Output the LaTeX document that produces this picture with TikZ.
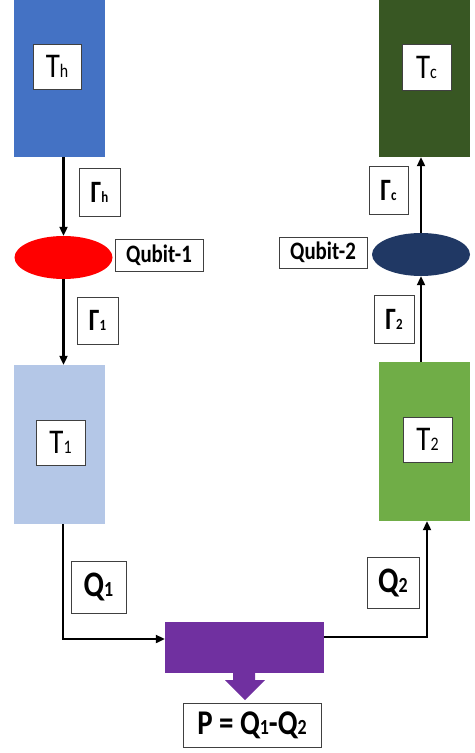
\documentclass[tikz,border=0pt]{standalone}
\usepackage{fontspec}
\setmainfont{Carlito}
\usetikzlibrary{arrows.meta,shapes.geometric}

\definecolor{hotblue}{HTML}{4472C4}
\definecolor{coldgreen}{HTML}{385723}
\definecolor{paleblue}{HTML}{B4C7E7}
\definecolor{leafgreen}{HTML}{70AD47}
\definecolor{qubitred}{HTML}{FF0000}
\definecolor{qubitnavy}{HTML}{203864}
\definecolor{workpurple}{HTML}{7030A0}
\definecolor{boxedge}{HTML}{404040}

% text is drawn slightly taller than wide
\newcommand{\vstretch}[1]{\scalebox{1}[1.2]{#1}}
% temperature label: big T with a smaller index on the same baseline
\newcommand{\templab}[1]{\vstretch{\fontsize{29}{29}\selectfont T\fontsize{16}{16}\selectfont #1}}
% rate label: bold Gamma with index
\newcommand{\ratelab}[1]{\vstretch{\bfseries\fontsize{26}{26}\selectfont Γ\fontsize{13}{13}\selectfont #1}}
% heat label: bold Q with index
\newcommand{\heatlab}[1]{\vstretch{\bfseries\fontsize{30}{30}\selectfont Q\fontsize{18}{18}\selectfont #1}}

\tikzset{
  x=1bp, y=-1bp,
  bath/.style={rectangle, draw=none, inner sep=0pt},
  tagbox/.style={rectangle, draw=boxedge, line width=0.8bp, fill=white, inner sep=0pt, align=center},
  qubit/.style={ellipse, draw=none, minimum width=98bp, minimum height=43bp, inner sep=0pt},
  arr/.style={line width=2.1bp, -{Triangle[length=9bp,width=8bp]}},
  flow/.style={line width=2.1bp, -{Triangle[length=9bp,width=8bp]}}
}

\begin{document}
\begin{tikzpicture}
\useasboundingbox (0,0) rectangle (475,753);

% reservoirs
\node[bath, fill=hotblue,   minimum width=91bp, minimum height=157bp] (th) at (59.5,78.5) {};
\node[bath, fill=coldgreen, minimum width=91bp, minimum height=157bp] (tc) at (424.5,78.5) {};
\node[bath, fill=paleblue,  minimum width=91bp, minimum height=159bp] (t1) at (59.5,444.5) {};
\node[bath, fill=leafgreen, minimum width=91bp, minimum height=159bp] (t2) at (424.5,441.5) {};

% qubits
\node[qubit, fill=qubitred]  (q1) at (63.5,257.5) {};
\node[qubit, fill=qubitnavy] (q2) at (421,254.5) {};

% work extraction block with its output arrow
\node[bath, fill=workpurple, minimum width=159bp, minimum height=51bp] (pw) at (244.5,647.5) {};
\fill[workpurple] (233,673) -- (255,673) -- (255,680) -- (265,680) -- (245,700)
  -- (225,680) -- (233,680) -- cycle;

% temperature labels
\node[tagbox, minimum width=48bp, minimum height=45bp] (lth) at (57,66.5)    {\templab{h}};
\node[tagbox, minimum width=49bp, minimum height=46bp] (ltc) at (426.5,67)   {\templab{c}};
\node[tagbox, minimum width=49bp, minimum height=45bp] (lt1) at (60.5,442.5) {\templab{1}};
\node[tagbox, minimum width=49bp, minimum height=45bp] (lt2) at (427.5,439.5) {\templab{2}};

% qubit names
\node[tagbox, minimum width=88bp, minimum height=32bp] (lq1) at (159,255)   {\vstretch{\bfseries\fontsize{21}{21}\selectfont Qubit-1}};
\node[tagbox, minimum width=88bp, minimum height=31bp] (lq2) at (323,252.5) {\vstretch{\bfseries\fontsize{21}{21}\selectfont Qubit-2}};

% rates
\node[tagbox, minimum width=41bp, minimum height=48bp] (gh) at (99.5,192)  {\ratelab{h}};
\node[tagbox, minimum width=41bp, minimum height=47bp] (g1) at (97.5,320.5) {\ratelab{1}};
\node[tagbox, minimum width=39bp, minimum height=48bp] (gc) at (388.5,190) {\ratelab{c}};
\node[tagbox, minimum width=40bp, minimum height=48bp] (g2) at (394,319)   {\ratelab{2}};

% heats and power
\node[tagbox, minimum width=55bp, minimum height=52bp] (hq1) at (98.5,587) {\heatlab{1}};
\node[tagbox, minimum width=52bp, minimum height=51bp] (hq2) at (393,582.5) {\heatlab{2}};
\node[tagbox, minimum width=138bp, minimum height=44bp] (pow) at (252,725)
  {\vstretch{\bfseries\fontsize{29}{29}\selectfont P = Q\fontsize{18}{18}\selectfont 1\fontsize{29}{29}\selectfont -Q\fontsize{18}{18}\selectfont 2}};

% transport arrows
\draw[arr] (q1.north |- th.south) -- (q1.north);
\draw[arr] (q1.south) -- (q1.south |- t1.north);
\draw[arr] (q2.south |- t2.north) -- (q2.south);
\draw[arr] (q2.north) -- (q2.north |- tc.south);

% heat flows through the work block
\coordinate (j1) at (63,639);
\coordinate (j2) at (427,637);
\draw[flow] (j1 |- t1.south) -- (j1) -- (pw.west |- j1);
\draw[flow] (pw.east |- j2) -- (j2) -- (j2 |- t2.south);
\end{tikzpicture}
\end{document}
